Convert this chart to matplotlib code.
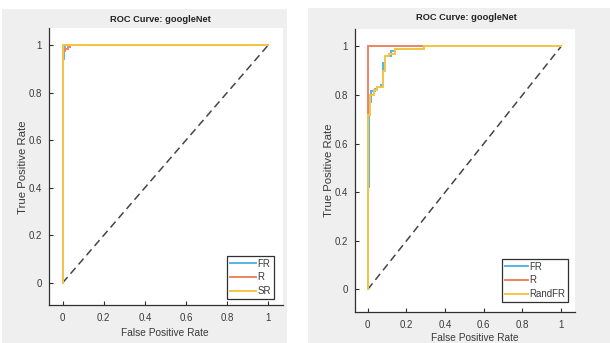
import matplotlib
matplotlib.use("Agg")
import matplotlib.pyplot as plt
from matplotlib.patches import Rectangle

plt.rcParams['font.family'] = ['Liberation Sans', 'DejaVu Sans']

W, H = 610, 343

title_text = "ROC Curve: googleNet"
xlabel_text = "False Positive Rate"
ylabel_text = "True Positive Rate"
tick_vals = [0, 0.2, 0.4, 0.6, 0.8, 1]
tick_labels = ["0", "0.2", "0.4", "0.6", "0.8", "1"]

# Left panel series
left_names = ["FR", "R", "SR"]
left_fr_x = [0, 0, 0.005, 0.005, 0.01, 0.01, 1]
left_fr_y = [0, 0.94, 0.94, 0.99, 0.99, 1.0, 1.0]
left_r_x = [0, 0, 0.012, 0.012, 0.025, 0.025, 0.037, 0.037, 1]
left_r_y = [0, 0.975, 0.975, 0.985, 0.985, 0.993, 0.993, 1.0, 1.0]
left_sr_x = [0, 0, 1]
left_sr_y = [0, 1.0, 1.0]

# Right panel series
right_names = ["FR", "R", "RandFR"]
right_fr_x = [0, 0, 0.004, 0.004, 0.018, 0.018, 0.035, 0.035, 0.05, 0.05, 0.07, 0.07,
              0.08, 0.08, 0.09, 0.09, 0.12, 0.12, 0.14, 0.14, 0.29, 0.29, 1]
right_fr_y = [0, 0.42, 0.42, 0.77, 0.77, 0.815, 0.815, 0.825, 0.825, 0.835, 0.835, 0.84,
              0.84, 0.93, 0.93, 0.96, 0.96, 0.98, 0.98, 0.99, 0.99, 1.0, 1.0]
right_r_x = [0, 0, 1]
right_r_y = [0, 1.0, 1.0]
right_rf_x = [0, 0, 0.01, 0.01, 0.03, 0.03, 0.05, 0.05, 0.08, 0.08, 0.09, 0.09, 0.11, 0.11,
              0.14, 0.14, 0.29, 0.29, 1]
right_rf_y = [0, 0.72, 0.72, 0.80, 0.80, 0.82, 0.82, 0.835, 0.835, 0.90, 0.90, 0.96, 0.96, 0.97,
              0.97, 0.99, 0.99, 1.0, 1.0]

diag_x = [0, 1]
diag_y = [0, 1]

colors = ["#55b6e6", "#ec8462", "#f3c646"]
panel_grey = "#efefef"
axis_col = "#303030"

fig = plt.figure(figsize=(W / 100, H / 100), dpi=100, facecolor="white")

def px_rect(x0, y0, x1, y1):
    return [x0 / W, 1 - y1 / H, (x1 - x0) / W, (y1 - y0) / H]

# grey figure panels
for (x0, y0, x1, y1) in [(2, 9, 287, 343), (308, 8, 610, 343)]:
    r = px_rect(x0, y0, x1, y1)
    fig.patches.append(Rectangle((r[0], r[1]), r[2], r[3], transform=fig.transFigure,
                                 facecolor=panel_grey, edgecolor="none", zorder=-10))

def make_axes(rect, series, names, leg_box, handle_len, title_xy, xlabel_xy, ylabel_xy):
    ax = fig.add_axes(px_rect(*rect))
    ax.set_facecolor("white")
    for (xs, ys), c, n in zip(series, colors, names):
        ax.plot(xs, ys, color=c, lw=1.4, label=n, solid_joinstyle="miter")
    ax.plot(diag_x, diag_y, color="#454545", lw=1.1, dashes=(5, 3), zorder=1)
    ax.set_xlim(-0.066, 1.072)
    ax.set_ylim(-0.093, 1.072)
    ax.set_xticks(tick_vals)
    ax.set_xticklabels(tick_labels)
    ax.set_yticks(tick_vals)
    ax.set_yticklabels(tick_labels)
    ax.tick_params(direction="in", length=3, width=0.8, colors=axis_col, labelsize=7,
                   labelcolor="#3a3a3a", pad=5)
    ax.tick_params(axis="x", pad=6)
    for s in ["top", "right"]:
        ax.spines[s].set_visible(False)
    for s in ["left", "bottom"]:
        ax.spines[s].set_color(axis_col)
        ax.spines[s].set_linewidth(0.9)
    x1, y1 = leg_box
    leg = ax.legend(loc="lower right", bbox_to_anchor=(x1 / W, 1 - y1 / H),
                    bbox_transform=fig.transFigure, borderaxespad=0, fontsize=7,
                    frameon=True, fancybox=False, edgecolor=axis_col, framealpha=1,
                    handlelength=handle_len, handletextpad=0.15, labelspacing=0.38,
                    borderpad=0.3)
    leg.get_frame().set_linewidth(0.9)
    for t in leg.get_texts():
        t.set_color("#3a3a3a")
    fig.text(title_xy[0] / W, 1 - title_xy[1] / H, title_text, ha="center", va="center",
             fontsize=6.7, fontweight="bold", color="#222222")
    fig.text(xlabel_xy[0] / W, 1 - xlabel_xy[1] / H, xlabel_text, ha="center", va="center",
             fontsize=7.3, color="#3a3a3a")
    fig.text(ylabel_xy[0] / W, 1 - ylabel_xy[1] / H, ylabel_text, ha="center", va="center",
             rotation=90, fontsize=8.2, color="#3a3a3a")
    return ax

make_axes((49, 28, 283, 305),
          [(left_fr_x, left_fr_y), (left_r_x, left_r_y), (left_sr_x, left_sr_y)],
          left_names, (274, 299), 2.7, (160, 20), (165, 333), (23, 167))
make_axes((355, 29, 575, 312),
          [(right_fr_x, right_fr_y), (right_r_x, right_r_y), (right_rf_x, right_rf_y)],
          right_names, (568, 302), 2.3, (466, 18), (475, 338), (329, 170))

fig.savefig("out.png", dpi=100, facecolor="white")
